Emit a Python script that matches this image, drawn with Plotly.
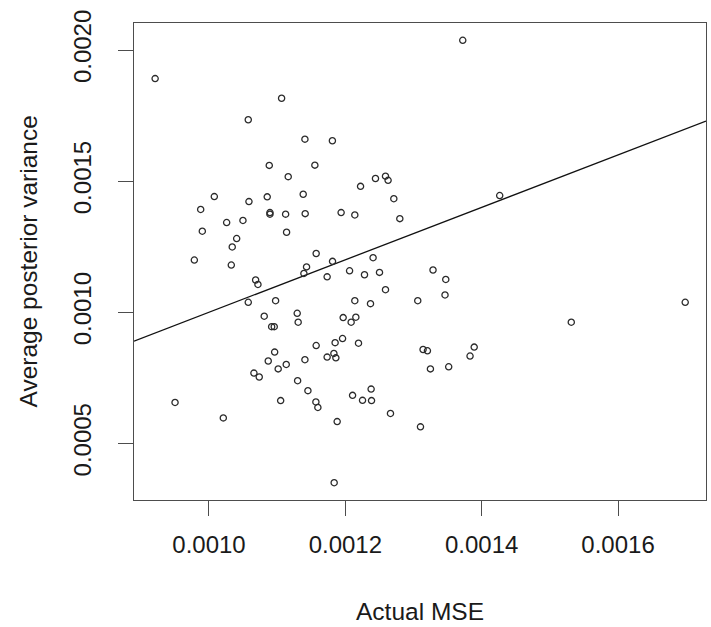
import plotly.graph_objects as go

# Actual MSE (x) and average posterior variance (y) for each replicate
actual_mse = [
    0.000921, 0.0011065, 0.0010576, 0.0011407, 0.001181, 0.0010884, 0.0011553, 0.0011162,
    0.0013722, 0.0012442, 0.0012589, 0.0012627, 0.0012223, 0.0012711, 0.0011938, 0.0012139,
    0.0012799, 0.0014264, 0.0011812, 0.0011733, 0.0012407, 0.0012062, 0.0012281, 0.0012501,
    0.0013286, 0.0013473, 0.0012589, 0.0013462, 0.0012139, 0.0012369, 0.0013062, 0.0011968,
    0.0012154, 0.0012085, 0.001185, 0.0011959, 0.0012193, 0.001314, 0.0013204, 0.001389,
    0.0013829, 0.0011832, 0.0011861, 0.0013248, 0.0013516, 0.0012378, 0.0012106, 0.0012252,
    0.0012384, 0.0012662, 0.0013102, 0.001188, 0.0011836, 0.0010078, 0.0010586, 0.0010854,
    0.0011382, 0.0009878, 0.0010894, 0.0010894, 0.0011124, 0.0011411, 0.0010259, 0.0010498,
    0.0009902, 0.0011138, 0.0010406, 0.0010341, 0.0011572, 0.0009785, 0.0010327, 0.0011431,
    0.0011392, 0.0010684, 0.0010718, 0.0010576, 0.0010977, 0.001081, 0.0011294, 0.0011308,
    0.0010919, 0.0010957, 0.0011572, 0.0010963, 0.0010869, 0.0011133, 0.0011015, 0.0011407,
    0.0011733, 0.0010659, 0.0010737, 0.00113, 0.0011451, 0.0009502, 0.0011051, 0.0011568,
    0.0011597, 0.001021, 0.0015314, 0.0016985,
]
avg_post_var = [
    0.001891, 0.001816, 0.001734, 0.00166, 0.001654, 0.00156, 0.001561, 0.001517,
    0.002037, 0.00151, 0.001519, 0.001503, 0.00148, 0.001433, 0.00138, 0.001371,
    0.001357, 0.001445, 0.001194, 0.001135, 0.001208, 0.001158, 0.001143, 0.001152,
    0.001161, 0.001125, 0.001086, 0.001066, 0.001044, 0.0010327, 0.001044, 0.0009795,
    0.000981, 0.000962, 0.000884, 0.0008996, 0.000882, 0.000858, 0.000853, 0.000867,
    0.000833, 0.000843, 0.000826, 0.000784, 0.000792, 0.000707, 0.000683, 0.000664,
    0.000663, 0.000614, 0.000563, 0.000583, 0.00035, 0.001441, 0.001422, 0.00144,
    0.00145, 0.001392, 0.00138, 0.001374, 0.001374, 0.001376, 0.001342, 0.00135,
    0.001309, 0.001305, 0.001281, 0.001249, 0.001224, 0.001199, 0.00118, 0.001173,
    0.001148, 0.001123, 0.001106, 0.001038, 0.001044, 0.000985, 0.000996, 0.000962,
    0.000945, 0.000945, 0.000873, 0.000848, 0.000814, 0.000801, 0.000784, 0.000819,
    0.000829, 0.000768, 0.000753, 0.000739, 0.000701, 0.000656, 0.000663, 0.000658,
    0.000637, 0.000597, 0.000962, 0.001038,
]

x_ticks = [0.0010, 0.0012, 0.0014, 0.0016]
y_ticks = [0.0005, 0.0010, 0.0015, 0.0020]
x_range = [0.00089, 0.001729]
y_range = [0.000284, 0.002103]

FONT = "Liberation Sans, Arial, Helvetica, sans-serif"
INK = "#1a1a1a"
FRAME = "#4d4d4d"

fig = go.Figure()

# identity reference line y = x, spanning the full horizontal range
fig.add_trace(go.Scatter(
    x=x_range, y=x_range, mode="lines",
    line=dict(color="#111111", width=1.3),
    hoverinfo="skip", showlegend=False,
))

fig.add_trace(go.Scatter(
    x=actual_mse, y=avg_post_var, mode="markers",
    marker=dict(symbol="circle-open", size=6.2, color="#2b2b2b",
                line=dict(color="#2b2b2b", width=1.3)),
    showlegend=False,
))

axis_common = dict(
    showgrid=False, zeroline=False,
    showline=True, mirror=True, linecolor=FRAME, linewidth=1.2,
    ticks="outside", ticklen=15, tickwidth=1.2, tickcolor=FRAME,
    tickformat=".4f",
    tickfont=dict(family=FONT, size=24, color=INK),
)

fig.update_xaxes(range=x_range, tickvals=x_ticks, ticklabelstandoff=8, **axis_common)
fig.update_yaxes(range=y_range, tickvals=y_ticks, tickangle=-90, ticklabelstandoff=17,
                 **axis_common)

fig.update_layout(
    width=711, height=627,
    margin=dict(l=134, r=5, t=23, b=127),
    paper_bgcolor="white", plot_bgcolor="white",
    font=dict(family=FONT, color=INK),
    annotations=[
        dict(text="Actual MSE", xref="paper", yref="paper", x=0.5, y=0,
             xanchor="center", yanchor="middle", yshift=-111, showarrow=False,
             font=dict(family=FONT, size=24.5, color=INK)),
        dict(text="Average posterior variance", xref="paper", yref="paper", x=0, y=0.5,
             xanchor="center", yanchor="middle", xshift=-106, textangle=-90,
             showarrow=False, font=dict(family=FONT, size=24.5, color=INK)),
    ],
)

fig.write_html("out.html")
